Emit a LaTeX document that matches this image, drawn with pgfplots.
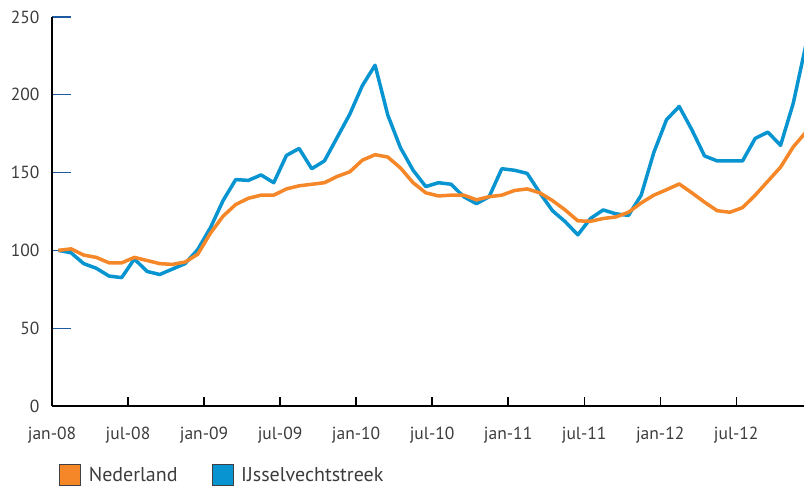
\documentclass[border=0pt]{standalone}
\usepackage{pgfplots}
\pgfplotsset{compat=1.18}
\usepackage{pgfplotstable}
\usepackage{fontspec}
\setmainfont{PT Sans}
\definecolor{nlorange}{RGB}{245,135,40}
\definecolor{ijblue}{RGB}{8,148,208}
\definecolor{tickblue}{RGB}{30,90,160}
\definecolor{txt}{RGB}{60,60,60}

\pgfplotstableread{
i nl ij
0 100 100
1 101 98.5
2 97 91.5
3 95.5 88.5
4 92 83.5
5 92 82.5
6 95.5 94.5
7 93.5 86.5
8 91.5 84.5
9 91 88
10 92.5 91.5
11 97.5 100.5
12 111 114.5
13 122 132
14 129.5 145.5
15 133.5 145
16 135.5 148.5
17 135.5 143.5
18 139.5 161
19 141.5 165.5
20 142.5 152.5
21 143.5 157.5
22 147.5 172.5
23 150.5 187.5
24 158 206
25 161.5 219
26 160 187
27 153 166
28 143.5 151.5
29 137 141
30 135 143.5
31 135.5 142.5
32 135.5 134.5
33 132.5 130
34 134.5 134.5
35 135.5 152.5
36 138.5 151.5
37 139.5 149.5
38 137 137
39 132 125.5
40 126 118.5
41 119 110
42 118.7 120.5
43 120.5 126
44 121.5 123.5
45 124.5 122.5
46 130.5 135.5
47 135.5 163
48 139 184
49 142.7 192.5
50 137 177.5
51 131 160.7
52 125.5 157.5
53 124.5 157.5
54 127.5 157.5
55 135.5 172
56 144.5 176
57 153.5 167.5
58 166.5 194.5
59 176 232
}\data

\begin{document}
\begin{tikzpicture}
\begin{axis}[
  at={(0pt,0pt)}, anchor=south west,
  scale only axis, width=752pt, height=389pt,
  xmin=-0.5, xmax=58.85, ymin=0, ymax=250,
  axis x line=bottom, axis y line=left,
  axis line style={-, black, line width=1.3pt},
  xtick={-0.5,5.5,11.5,17.5,23.5,29.5,35.5,41.5,47.5,53.5},
  xticklabels={jan-08,jul-08,jan-09,jul-09,jan-10,jul-10,jan-11,jul-11,jan-12,jul-12},
  ytick={0,50,100,150,200,250},
  tick align=inside,
  major tick length=19pt,
  ytick style={tickblue, line width=1.3pt},
  xtick style={draw=none},
  tick label style={font=\fontsize{17.5}{21}\selectfont, text=txt},
  /pgf/number format/assume math mode=true,
  xticklabel style={yshift=-18pt},
  yticklabel style={xshift=-9pt},
  legend style={at={(axis description cs:0,0)}, anchor=north west,
    xshift=7pt, yshift=-58pt, draw=none, fill=none, inner sep=0pt,
    font=\fontsize{20}{23}\selectfont, text=txt,
    /tikz/every even column/.append style={column sep=32pt}},
  legend columns=2,
  legend image code/.code={\filldraw[#1, draw=black!75, line width=0.8pt] (0pt,-10.5pt) rectangle (21pt,10.5pt); \path (27pt,0pt);},
]
\addlegendimage{color=nlorange}
\addlegendentry{Nederland}
\addlegendimage{color=ijblue}
\addlegendentry{IJsselvechtstreek}
\addplot[ijblue, line width=3.5pt, line join=round, forget plot] table[x=i, y=ij] {\data};
\addplot[nlorange, line width=3.5pt, line join=round, forget plot] table[x=i, y=nl] {\data};
\end{axis}
\begin{axis}[
  at={(0pt,0pt)}, anchor=south west,
  scale only axis, width=752pt, height=389pt,
  xmin=-0.5, xmax=58.85, ymin=0, ymax=250,
  axis x line=bottom, axis y line=none,
  axis line style={-, black, line width=1.3pt},
  xtick={-0.5,5.5,11.5,17.5,23.5,29.5,35.5,41.5,47.5,53.5},
  xticklabels={},
  tick align=inside,
  major tick length=9pt,
  xtick style={black, line width=1.3pt},
]
\end{axis}
\pgfresetboundingbox
\path[use as bounding box] (-52pt,-81pt) rectangle (752pt,406pt);
\end{tikzpicture}
\end{document}
